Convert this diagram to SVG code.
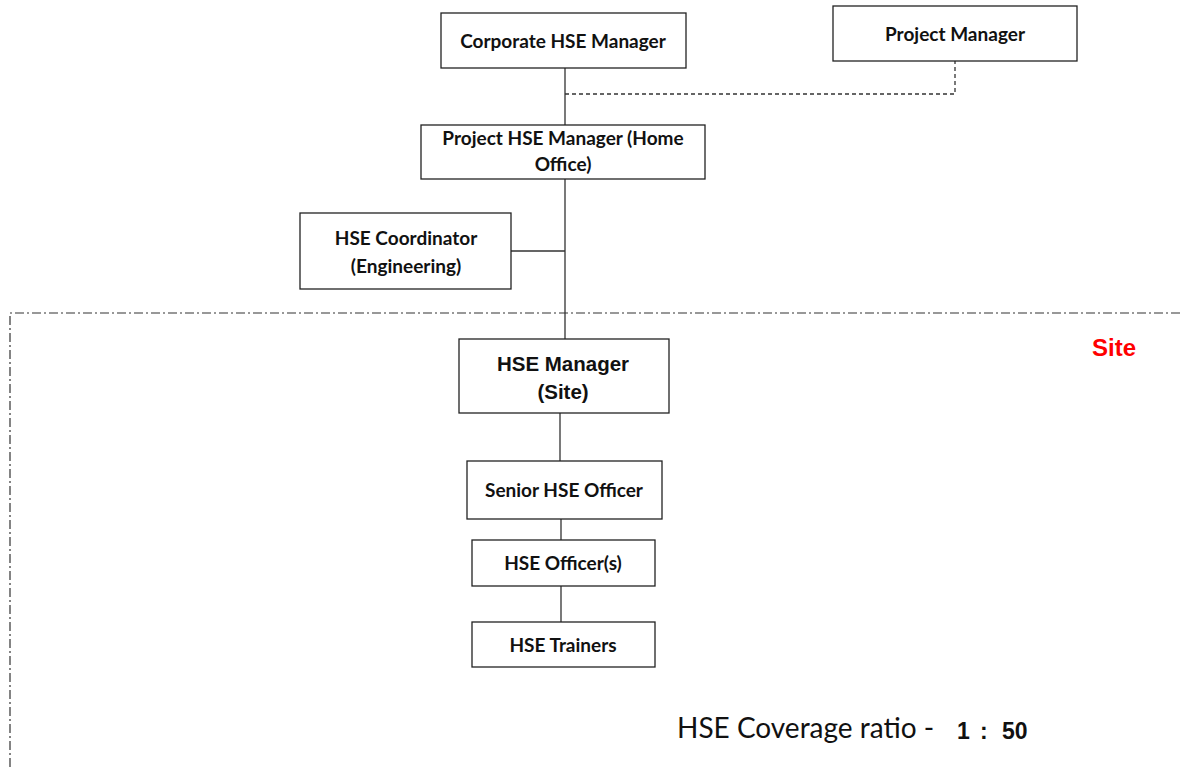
<svg xmlns="http://www.w3.org/2000/svg" width="1180" height="767" viewBox="0 0 1180 767">
<style>
.box{fill:#fff;stroke:#222;stroke-width:1.3}
.t{font-family:Lato,"Open Sans",sans-serif;font-weight:bold;font-size:19px;fill:#111;text-anchor:middle}
.ta{font-family:"Liberation Sans",Arial,sans-serif;font-weight:bold;font-size:20.5px;fill:#111;text-anchor:middle}
.ln{stroke:#333;stroke-width:1.3;fill:none}
</style>
<rect width="1180" height="767" fill="#fff"/>
<g id="site-boundary">
<path d="M10,767 V313 H1180" fill="none" stroke="#333" stroke-width="1.2" stroke-dasharray="9,3,2,3"/>
<text x="1114" y="356" font-family="'Liberation Sans',Arial,sans-serif" font-weight="bold" font-size="24" fill="#ff0000" text-anchor="middle">Site</text>
</g>
<g id="connectors">
<path class="ln" d="M565,68 V125 M565,179 V339 M511,251 H565 M560,413 V461 M561,519 V540 M561,586 V622"/>
<path class="ln" d="M565,94 H955 V61" stroke-dasharray="4,3"/>
</g>
<g id="corporate-hse-manager"><rect class="box" x="441" y="13" width="245" height="55"/><text class="t" x="563" y="48">Corporate HSE Manager</text></g>
<g id="project-manager"><rect class="box" x="833" y="6" width="244" height="55"/><text class="t" x="955" y="41">Project Manager</text></g>
<g id="project-hse-manager"><rect class="box" x="421" y="125" width="284" height="54"/><text class="t" x="563" y="145">Project HSE Manager (Home</text><text class="t" x="563" y="171">Office)</text></g>
<g id="hse-coordinator"><rect class="box" x="300" y="213" width="211" height="76"/><text class="t" x="406" y="245">HSE Coordinator</text><text class="t" x="406" y="273">(Engineering)</text></g>
<g id="hse-manager-site"><rect class="box" x="459" y="339" width="210" height="74"/><text class="ta" x="563" y="371">HSE Manager</text><text class="ta" x="563" y="399">(Site)</text></g>
<g id="senior-hse-officer"><rect class="box" x="467" y="461" width="195" height="58"/><text class="t" x="564" y="497">Senior HSE Officer</text></g>
<g id="hse-officers"><rect class="box" x="472" y="540" width="183" height="46"/><text class="t" x="563" y="570">HSE Officer(s)</text></g>
<g id="hse-trainers"><rect class="box" x="472" y="622" width="183" height="45"/><text class="t" x="563" y="652">HSE Trainers</text></g>
<g id="coverage">
<text x="677" y="738" font-family="Lato,'Open Sans',sans-serif" font-size="28" fill="#111">HSE Coverage ratio -</text>
<text y="739" font-family="'Liberation Sans',Arial,sans-serif" font-weight="bold" font-size="23" fill="#111"><tspan x="957">1</tspan><tspan x="980">:</tspan><tspan x="1002">50</tspan></text>
</g>
</svg>
